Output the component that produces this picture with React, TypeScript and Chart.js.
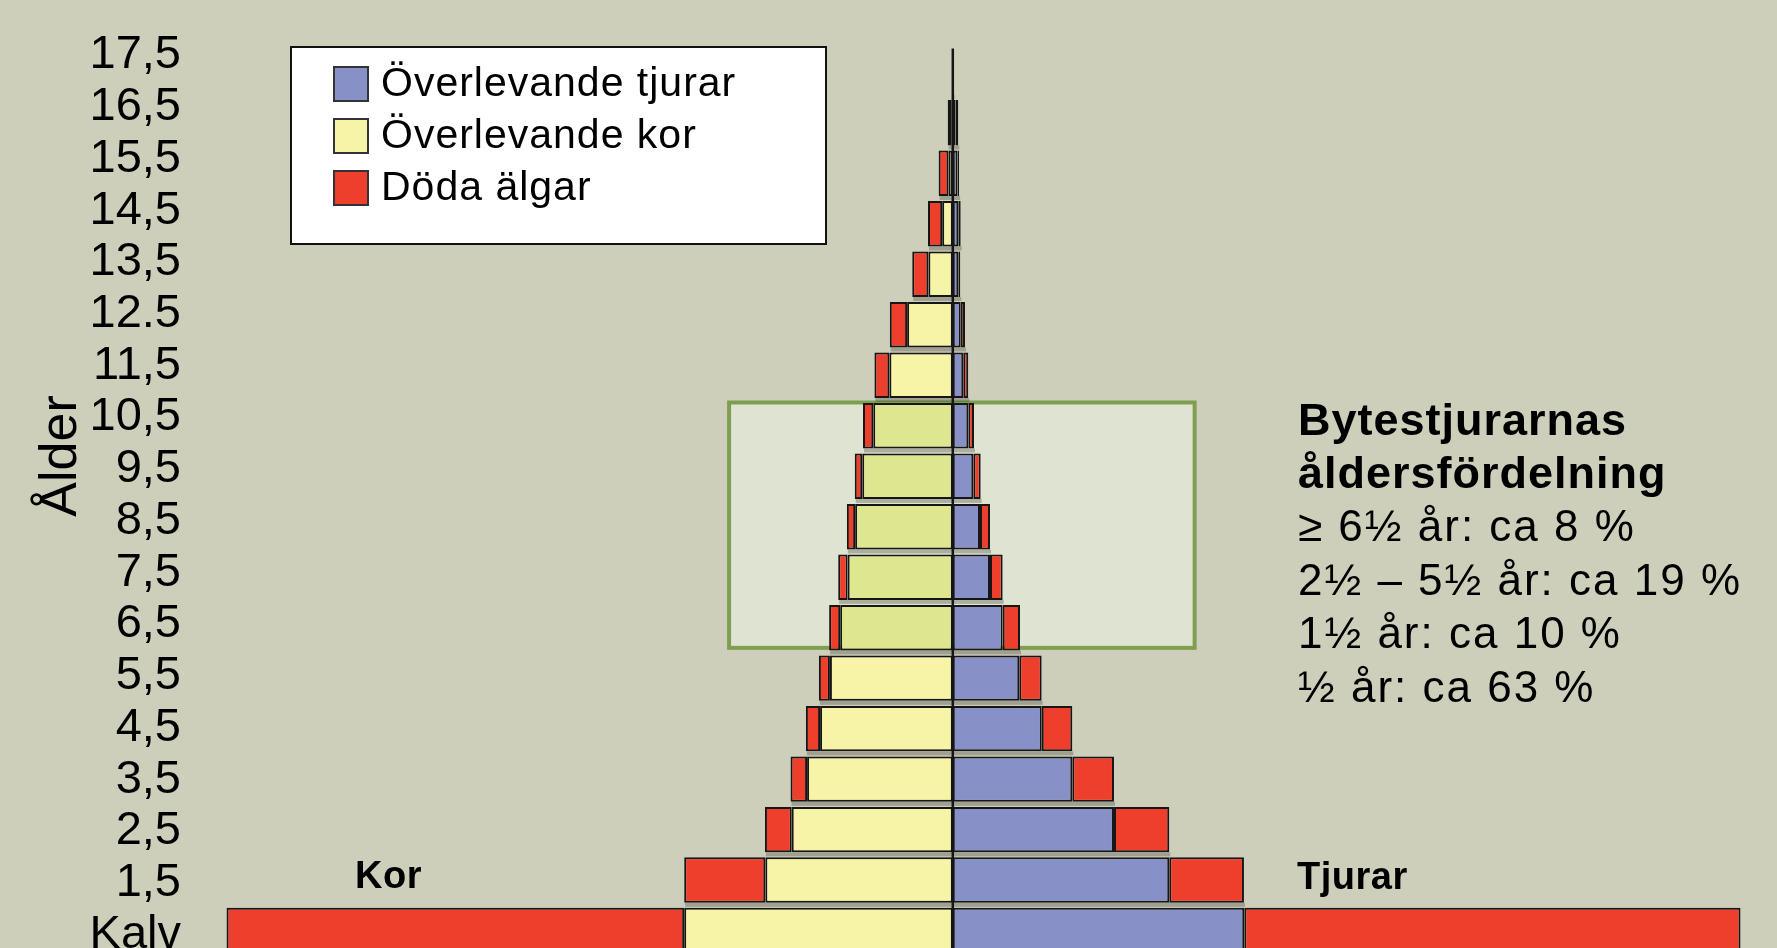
import React, { useEffect, useRef } from "react";
import { Chart, registerables } from "chart.js";

Chart.register(...registerables);

// ---- data (percent of calves born per sex) ----
const ageLabels = ["Kalv", "1,5", "2,5", "3,5", "4,5", "5,5", "6,5", "7,5", "8,5", "9,5", "10,5", "11,5", "12.5", "13,5", "14,5", "15,5", "16,5", "17,5"];
const cowSurvivors = [34.1, 23.8, 20.45, 18.5, 16.85, 15.6, 14.3, 13.35, 12.4, 11.5, 10.1, 8.05, 5.8, 3.1, 1.35, 0.55, 0.15, 0.05];
const cowDead = [58.1, 10.3, 3.4, 2.1, 1.8, 1.4, 1.4, 1.2, 1.05, 0.95, 1.3, 1.9, 2.2, 2.05, 1.8, 1.25, 0.5, 0.05];
const bullSurvivors = [37.0, 27.48, 20.46, 15.17, 11.29, 8.44, 6.33, 4.72, 3.45, 2.6, 1.97, 1.33, 1.0, 0.7, 0.7, 0.6, 0.35, 0.05];
const bullDead = [63.0, 9.48, 7.02, 5.29, 3.88, 2.84, 2.2, 1.61, 1.27, 0.94, 0.72, 0.63, 0.55, 0.25, 0.3, 0.2, 0.35, 0.05];
const highlightRows = [6, 7, 8, 9, 10];

const legendItems = ["Överlevande tjurar", "Överlevande kor", "Döda älgar"];
const infoTitle = ["Bytestjurarnas", "åldersfördelning"];
const infoLines = ["≥ 6½ år: ca 8 %", "2½ – 5½ år: ca 19 %", "1½ år: ca 10 %", "½ år: ca 63 %"];
const sideLabels = ["Kor", "Tjurar"];
const axisTitle = "Ålder";

// ---- styles ----
const FONT = '"Liberation Sans", Arial, Helvetica, sans-serif';
const BG = "#cdcfbb";
const BLUE = "#8890c8";
const YELLOW = "#f8f4a7";
const YELLOW_HL = "#dfe690";
const RED = "#ee3e2c";
const EDGE = "#161616";

const decorPlugin = {
  id: "decor",
  beforeDatasetsDraw(chart: any) {
    const { ctx, scales } = chart;
    const x = scales.x;
    const yb = scales.yb;
    // highlight box (6,5 – 10,5 years)
    const bx1 = x.getPixelForValue(-28.4);
    const bx2 = x.getPixelForValue(30.7);
    const by1 = yb.getPixelForValue(10.46);
    const by2 = yb.getPixelForValue(5.6);
    ctx.save();
    ctx.fillStyle = "#dfe4d2";
    ctx.fillRect(bx1, by1, bx2 - bx1, by2 - by1);
    ctx.lineWidth = 4;
    ctx.strokeStyle = "#7e9f4e";
    ctx.strokeRect(bx1, by1, bx2 - bx1, by2 - by1);
    // soft shadow under every bar
    ctx.fillStyle = "rgba(40,40,30,0.28)";
    chart.data.datasets.forEach((_: any, di: number) => {
      const meta = chart.getDatasetMeta(di);
      meta.data.forEach((el: any) => {
        const l = Math.min(el.x, el.base);
        const r = Math.max(el.x, el.base);
        const b = el.y + el.height / 2;
        ctx.fillRect(l + 1, b, r - l, 4);
      });
    });
    ctx.restore();
  },
  afterDatasetsDraw(chart: any) {
    const { ctx, scales, chartArea } = chart;
    const x0 = scales.x.getPixelForValue(0);
    const top = scales.yb.getPixelForValue(ageLabels.length - 1 + 0.47);
    ctx.save();
    ctx.strokeStyle = EDGE;
    ctx.lineWidth = 2.5;
    ctx.beginPath();
    ctx.moveTo(x0, top);
    ctx.lineTo(x0, chartArea.bottom);
    ctx.stroke();
    ctx.restore();
  },
  afterDraw(chart: any) {
    const { ctx } = chart;
    ctx.save();
    // legend box
    ctx.fillStyle = "#ffffff";
    ctx.fillRect(291, 47, 535, 197);
    ctx.lineWidth = 2;
    ctx.strokeStyle = "#111";
    ctx.strokeRect(291, 47, 535, 197);
    const swatch = [BLUE, YELLOW, RED];
    ctx.font = `41px ${FONT}`;
    ctx.letterSpacing = "1px";
    ctx.textAlign = "left";
    ctx.textBaseline = "alphabetic";
    legendItems.forEach((t, i) => {
      const y = 67 + i * 52;
      ctx.fillStyle = swatch[i];
      ctx.fillRect(334, y, 34, 34);
      ctx.lineWidth = 2;
      ctx.strokeStyle = "#333";
      ctx.strokeRect(334, y, 34, 34);
      ctx.fillStyle = "#000";
      ctx.fillText(t, 381, y + 29);
    });
    // info text
    ctx.fillStyle = "#000";
    ctx.font = `bold 45px ${FONT}`;
    ctx.letterSpacing = "1px";
    infoTitle.forEach((t, i) => ctx.fillText(t, 1298, 435 + i * 52.5));
    ctx.font = `44px ${FONT}`;
    ctx.letterSpacing = "2px";
    infoLines.forEach((t, i) => ctx.fillText(t, 1298, 541 + i * 53.5));
    // side labels
    ctx.letterSpacing = "0.5px";
    ctx.font = `bold 38px ${FONT}`;
    ctx.fillText(sideLabels[0], 355, 888);
    ctx.fillText(sideLabels[1], 1297, 889);
    // axis title
    ctx.letterSpacing = "0px";
    ctx.translate(76, 456);
    ctx.rotate(-Math.PI / 2);
    ctx.textAlign = "center";
    ctx.font = `52px ${FONT}`;
    ctx.fillText(axisTitle, 0, 0);
    ctx.restore();
  },
};

export default function App() {
  const ref = useRef<HTMLCanvasElement>(null);
  useEffect(() => {
    const canvas = ref.current;
    if (!canvas) return;
    const common = {
      borderColor: EDGE,
      borderWidth: 2,
      borderSkipped: false as const,
      xAxisID: "x",
      yAxisID: "yb",
      categoryPercentage: 1,
      barPercentage: 0.9,
    };
    const chart = new Chart(canvas, {
      type: "bar",
      data: {
        labels: ageLabels,
        datasets: [
          {
            label: "Överlevande kor",
            data: cowSurvivors.map((v, i) => ({ x: -v, y: i })),
            backgroundColor: (c: any) => (highlightRows.includes(c.dataIndex) ? YELLOW_HL : YELLOW),
            ...common,
          },
          {
            label: "Döda kor",
            data: cowDead.map((v, i) => ({ x: -v, y: i })),
            backgroundColor: RED,
            ...common,
          },
          {
            label: "Överlevande tjurar",
            data: bullSurvivors.map((v, i) => ({ x: v, y: i })),
            backgroundColor: BLUE,
            ...common,
          },
          {
            label: "Döda tjurar",
            data: bullDead.map((v, i) => ({ x: v, y: i })),
            backgroundColor: RED,
            ...common,
          },
        ] as any,
      },
      options: {
        indexAxis: "y",
        responsive: false,
        maintainAspectRatio: false,
        animation: false,
        devicePixelRatio: 1,
        layout: { padding: { top: 29.5, left: 0, right: 0, bottom: 0 } },
        plugins: { legend: { display: false }, tooltip: { enabled: false } },
        scales: {
          x: { type: "linear", min: -97.98, max: 104.63, stacked: true, display: false },
          y: {
            type: "category",
            position: "left",
            reverse: true,
            grid: { display: false, drawTicks: false },
            border: { display: false },
            ticks: {
              autoSkip: false,
              padding: 0,
              color: "#000",
              font: { family: FONT, size: 47, lineHeight: 0.01 },
            },
            afterFit: (s: any) => {
              s.width = 181;
            },
          },
          yb: {
            type: "linear",
            axis: "y",
            position: "left",
            display: false,
            offset: false,
            grid: { offset: false },
            min: -0.598,
            max: 17.848,
            stacked: true,
            afterBuildTicks: (s: any) => {
              s.ticks = ageLabels.map((_, i) => ({ value: i }));
            },
          },
        } as any,
      },
      plugins: [decorPlugin],
    } as any);
    return () => chart.destroy();
  }, []);

  return (
    <div
      style={{
        position: "fixed",
        left: 0,
        top: 0,
        width: 1777,
        height: 948,
        overflow: "hidden",
        background: BG,
      }}
    >
      <canvas ref={ref} width={1777} height={961} style={{ display: "block" }} />
    </div>
  );
}
